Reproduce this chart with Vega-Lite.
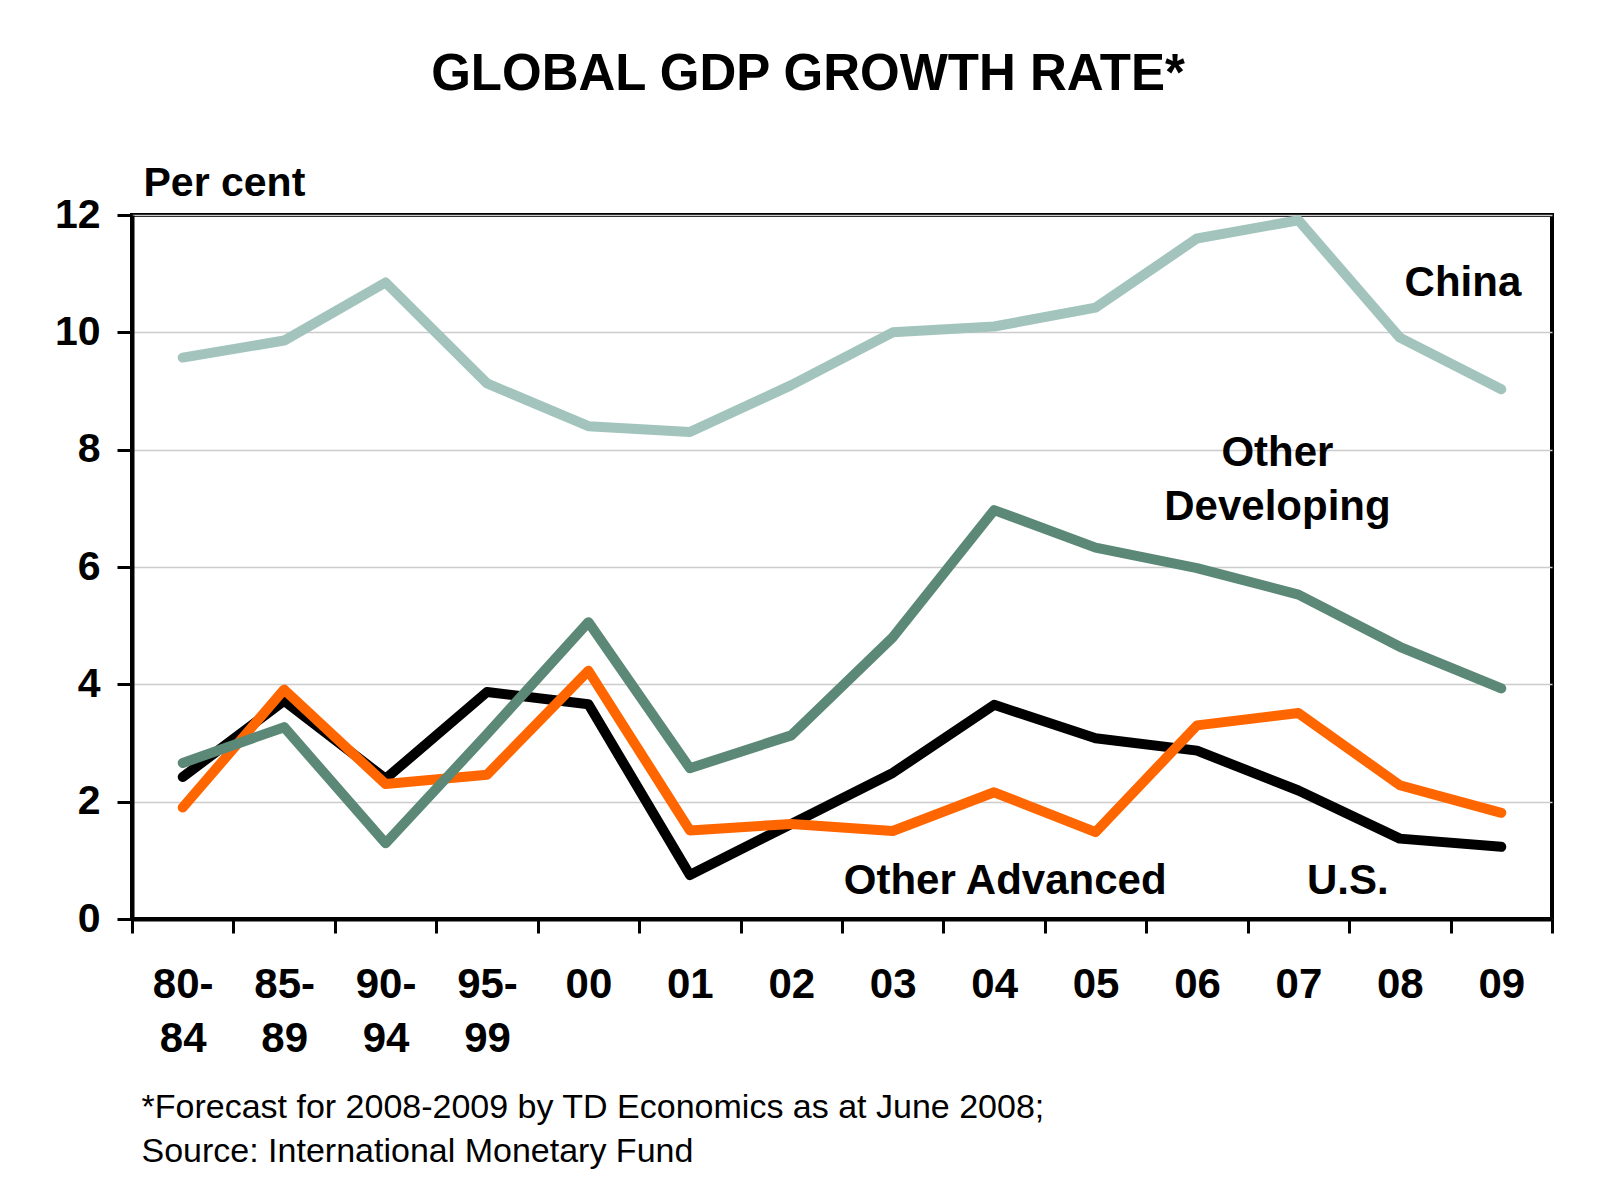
{
  "$schema": "https://vega.github.io/schema/vega-lite/v6.json",
  "autosize": {"type": "none"},
  "padding": {"left": 132, "top": 215, "right": 47, "bottom": 282},
  "width": 1420,
  "height": 704,
  "background": "white",
  "config": {
    "font": "Liberation Sans",
    "view": {"stroke": "black", "strokeWidth": 4}
  },
  "title": {
    "text": "GLOBAL GDP GROWTH RATE*",
    "fontSize": 51,
    "fontWeight": "bold",
    "color": "black",
    "anchor": "middle",
    "dx": -34,
    "baseline": "alphabetic",
    "offset": 21
  },
  "datasets": {
    "gdp": [
      {"period": "80-|84", "series": "China", "value": 9.57},
      {"period": "85-|89", "series": "China", "value": 9.86},
      {"period": "90-|94", "series": "China", "value": 10.85},
      {"period": "95-|99", "series": "China", "value": 9.13},
      {"period": "00", "series": "China", "value": 8.4},
      {"period": "01", "series": "China", "value": 8.3},
      {"period": "02", "series": "China", "value": 9.1},
      {"period": "03", "series": "China", "value": 10.0},
      {"period": "04", "series": "China", "value": 10.1},
      {"period": "05", "series": "China", "value": 10.42},
      {"period": "06", "series": "China", "value": 11.6},
      {"period": "07", "series": "China", "value": 11.91},
      {"period": "08", "series": "China", "value": 9.91},
      {"period": "09", "series": "China", "value": 9.03},
      {"period": "80-|84", "series": "U.S.", "value": 2.42},
      {"period": "85-|89", "series": "U.S.", "value": 3.72},
      {"period": "90-|94", "series": "U.S.", "value": 2.39},
      {"period": "95-|99", "series": "U.S.", "value": 3.87},
      {"period": "00", "series": "U.S.", "value": 3.66},
      {"period": "01", "series": "U.S.", "value": 0.75},
      {"period": "02", "series": "U.S.", "value": 1.62},
      {"period": "03", "series": "U.S.", "value": 2.49},
      {"period": "04", "series": "U.S.", "value": 3.65},
      {"period": "05", "series": "U.S.", "value": 3.08},
      {"period": "06", "series": "U.S.", "value": 2.87},
      {"period": "07", "series": "U.S.", "value": 2.19},
      {"period": "08", "series": "U.S.", "value": 1.37},
      {"period": "09", "series": "U.S.", "value": 1.23},
      {"period": "80-|84", "series": "Other Advanced", "value": 1.9},
      {"period": "85-|89", "series": "Other Advanced", "value": 3.91},
      {"period": "90-|94", "series": "Other Advanced", "value": 2.3},
      {"period": "95-|99", "series": "Other Advanced", "value": 2.46},
      {"period": "00", "series": "Other Advanced", "value": 4.23},
      {"period": "01", "series": "Other Advanced", "value": 1.51},
      {"period": "02", "series": "Other Advanced", "value": 1.62},
      {"period": "03", "series": "Other Advanced", "value": 1.5},
      {"period": "04", "series": "Other Advanced", "value": 2.16},
      {"period": "05", "series": "Other Advanced", "value": 1.48},
      {"period": "06", "series": "Other Advanced", "value": 3.3},
      {"period": "07", "series": "Other Advanced", "value": 3.51},
      {"period": "08", "series": "Other Advanced", "value": 2.28},
      {"period": "09", "series": "Other Advanced", "value": 1.81},
      {"period": "80-|84", "series": "Other Developing", "value": 2.66},
      {"period": "85-|89", "series": "Other Developing", "value": 3.27},
      {"period": "90-|94", "series": "Other Developing", "value": 1.29},
      {"period": "95-|99", "series": "Other Developing", "value": 3.15},
      {"period": "00", "series": "Other Developing", "value": 5.06},
      {"period": "01", "series": "Other Developing", "value": 2.57},
      {"period": "02", "series": "Other Developing", "value": 3.13},
      {"period": "03", "series": "Other Developing", "value": 4.8},
      {"period": "04", "series": "Other Developing", "value": 6.97},
      {"period": "05", "series": "Other Developing", "value": 6.33},
      {"period": "06", "series": "Other Developing", "value": 5.98},
      {"period": "07", "series": "Other Developing", "value": 5.53},
      {"period": "08", "series": "Other Developing", "value": 4.64},
      {"period": "09", "series": "Other Developing", "value": 3.93}
    ]
  },
  "encoding": {
    "x": {
      "field": "period",
      "type": "ordinal",
      "sort": null,
      "scale": {
        "type": "band",
        "paddingInner": 0,
        "paddingOuter": 0,
        "domain": ["80-|84", "85-|89", "90-|94", "95-|99", "00", "01", "02", "03", "04", "05", "06", "07", "08", "09"]
      },
      "axis": {
        "tickBand": "extent",
        "labelExpr": "datum.value ? split(datum.value, '|') : ''",
        "labelAngle": 0,
        "labelFontSize": 42,
        "labelFontWeight": "bold",
        "labelColor": "black",
        "labelBaseline": "top",
        "labelPadding": 31,
        "labelLineHeight": 54,
        "tickSize": 14,
        "tickWidth": 3,
        "tickColor": "black",
        "domainColor": "black",
        "domainWidth": 4,
        "grid": false,
        "title": ["*Forecast for 2008-2009 by TD Economics as at June 2008;", "Source: International Monetary Fund"],
        "titleFontSize": 34,
        "titleFontWeight": "normal",
        "titleColor": "black",
        "titleX": 9,
        "titleY": 198,
        "titleAlign": "left",
        "titleAnchor": "start",
        "titleBaseline": "alphabetic",
        "titleLineHeight": 44
      }
    },
    "y": {
      "field": "value",
      "type": "quantitative",
      "scale": {"domain": [0, 12], "nice": false, "zero": true},
      "axis": {
        "values": [0, 2, 4, 6, 8, 10, 12],
        "labelFontSize": 41,
        "labelFontWeight": "bold",
        "labelColor": "black",
        "labelPadding": 17,
        "tickSize": 15,
        "tickWidth": 3,
        "tickColor": "black",
        "domainColor": "black",
        "domainWidth": 4,
        "grid": true,
        "gridColor": "#cccccc",
        "gridWidth": 1.5,
        "title": "Per cent",
        "titleAngle": 0,
        "titleFontSize": 41,
        "titleFontWeight": "bold",
        "titleColor": "black",
        "titleX": 11,
        "titleY": -20,
        "titleAlign": "left",
        "titleBaseline": "alphabetic"
      }
    }
  },
  "layer": [
    {
      "data": {"name": "gdp"},
      "transform": [{"filter": "datum.series === 'China'"}],
      "mark": {"type": "line", "color": "#a2c4bc", "strokeWidth": 10, "strokeCap": "round", "strokeJoin": "round"}
    },
    {
      "data": {"name": "gdp"},
      "transform": [{"filter": "datum.series === 'U.S.'"}],
      "mark": {"type": "line", "color": "#000000", "strokeWidth": 10, "strokeCap": "round", "strokeJoin": "round"}
    },
    {
      "data": {"name": "gdp"},
      "transform": [{"filter": "datum.series === 'Other Advanced'"}],
      "mark": {"type": "line", "color": "#ff6600", "strokeWidth": 10, "strokeCap": "round", "strokeJoin": "round"}
    },
    {
      "data": {"name": "gdp"},
      "transform": [{"filter": "datum.series === 'Other Developing'"}],
      "mark": {"type": "line", "color": "#5b8877", "strokeWidth": 10, "strokeCap": "round", "strokeJoin": "round"}
    },
    {
      "data": {"values": [{"period": "09", "value": 10.62, "label": "China"}]},
      "mark": {"type": "text", "align": "right", "baseline": "alphabetic", "dx": 20, "fontSize": 42, "fontWeight": "bold", "color": "black"},
      "encoding": {"text": {"field": "label"}}
    },
    {
      "data": {"values": [{"period": "07", "value": 7.72, "label": "Other\nDeveloping"}]},
      "mark": {"type": "text", "align": "center", "baseline": "alphabetic", "dx": -21, "fontSize": 42, "fontWeight": "bold", "color": "black", "lineBreak": "\n", "lineHeight": 54},
      "encoding": {"text": {"field": "label"}}
    },
    {
      "data": {"values": [{"period": "04", "value": 0.42, "label": "Other Advanced"}]},
      "mark": {"type": "text", "align": "center", "baseline": "alphabetic", "dx": 11, "fontSize": 42, "fontWeight": "bold", "color": "black"},
      "encoding": {"text": {"field": "label"}}
    },
    {
      "data": {"values": [{"period": "08", "value": 0.42, "label": "U.S."}]},
      "mark": {"type": "text", "align": "center", "baseline": "alphabetic", "dx": -52, "fontSize": 42, "fontWeight": "bold", "color": "black"},
      "encoding": {"text": {"field": "label"}}
    }
  ]
}
